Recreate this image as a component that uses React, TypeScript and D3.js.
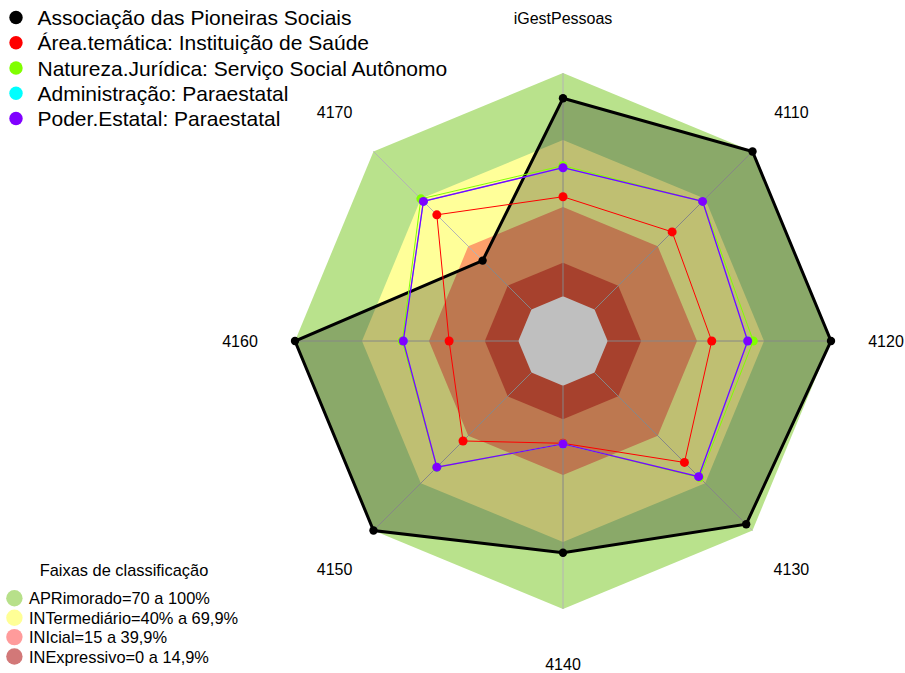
import React from "react";
import * as d3 from "d3";

const categories = ["iGestPessoas", "4110", "4120", "4130", "4140", "4150", "4160", "4170"];
const seriesNames = [
  "Associação das Pioneiras Sociais",
  "Área.temática: Instituição de Saúde",
  "Natureza.Jurídica: Serviço Social Autônomo",
  "Administração: Paraestatal",
  "Poder.Estatal: Paraestatal",
];
const seriesColors = ["#000000", "#ff0000", "#80ff00", "#00ffff", "#8000ff"];
const pioneiras = [88.7, 100, 100, 96, 74.8, 100, 100, 30.9];
const areaTematica = [44.6, 49.1, 46.6, 56.9, 25.8, 43.3, 31.0, 59.9];
const naturezaJuridica = [58.5, 68.4, 65.2, 66.5, 26.1, 60.0, 52.0, 70.0];
const administracao = [57.6, 68.4, 62.7, 65.9, 26.1, 59.9, 51.5, 68.4];
const poderEstatal = [57.6, 68.4, 62.7, 65.9, 26.1, 59.9, 51.5, 68.4];
const seriesValues = [pioneiras, areaTematica, naturezaJuridica, administracao, poderEstatal];

const bandNames = [
  "APRimorado=70 a 100%",
  "INTermediário=40% a 69,9%",
  "INIcial=15 a 39,9%",
  "INExpressivo=0 a 14,9%",
];
const bandUpper = [100, 70, 40, 15];
const bandFill = ["#b9e28c", "#ffff99", "#fca06b", "#df573c"];
const bandLegendColor = ["#b7e08a", "#ffff96", "#ff9b9b", "#d27878"];

const W = 905;
const H = 673;
const cx = 563;
const cy = 341;
const R = 268;
const FONT = "'Liberation Sans', Arial, sans-serif";

// fmsb-style radial scale: value 0 sits at 1/6 of the radius
const rScale = d3.scaleLinear().domain([0, 100]).range([R / 6, R]);
const angle = (i: number) => (i * 2 * Math.PI) / categories.length;

const pt = (i: number, v: number): [number, number] => {
  const r = rScale(v);
  const a = angle(i);
  return [cx + r * Math.sin(a), cy - r * Math.cos(a)];
};

const line = d3.line<[number, number]>().curve(d3.curveLinearClosed);
const ring = (v: number) => line(categories.map((_, i) => pt(i, v))) as string;

// drawing order: hidden cyan series underneath, then the others as in the legend
const drawOrder = [0, 3, 1, 2, 4];

export default function App() {
  return (
    <svg
      width={W}
      height={H}
      style={{ position: "absolute", left: 0, top: 0, background: "#fff" }}
      fontFamily={FONT}
    >
      {/* bands */}
      {bandUpper.map((u, k) => (
        <path key={"b" + k} d={ring(u)} fill={bandFill[k]} stroke="none" />
      ))}
      <path d={ring(0)} fill="#ffffff" stroke="none" />
      {/* axes */}
      {categories.map((_, i) => {
        const [x0, y0] = pt(i, 0);
        const [x1, y1] = pt(i, 100);
        return <line key={"ax" + i} x1={x0} y1={y0} x2={x1} y2={y1} stroke="#b4b4b4" strokeWidth={1} />;
      })}
      {/* series */}
      {drawOrder.map((s) => {
        const vals = seriesValues[s];
        const pts = vals.map((v, i) => pt(i, v));
        const isMain = s === 0;
        return (
          <g key={"s" + s}>
            <path
              d={line(pts) as string}
              fill={isMain ? "rgba(0,0,0,0.25)" : "none"}
              stroke={seriesColors[s]}
              strokeWidth={isMain ? 3 : s === 4 ? 1.3 : 1}
              strokeLinejoin="miter"
            />
            {pts.map(([x, y], i) => (
              <circle key={i} cx={x} cy={y} r={isMain ? 4.2 : 4.5} fill={seriesColors[s]} />
            ))}
          </g>
        );
      })}
      {/* axis labels */}
      {categories.map((c, i) => {
        const a = angle(i);
        const x = cx + 323 * Math.sin(a);
        const y = cy - 323 * Math.cos(a);
        return (
          <text key={"l" + i} x={x} y={y} textAnchor="middle" dominantBaseline="central" fontSize={16} fill="#000">
            {c}
          </text>
        );
      })}
      {/* series legend */}
      {seriesNames.map((n, k) => {
        const y = 17.5 + k * 25.25;
        return (
          <g key={"sl" + k}>
            <circle cx={16} cy={y} r={6.7} fill={seriesColors[k]} />
            <text x={37.5} y={y} dominantBaseline="central" fontSize={21} fill="#000">
              {n}
            </text>
          </g>
        );
      })}
      {/* bands legend */}
      <text x={124} y={570} textAnchor="middle" dominantBaseline="central" fontSize={16.4} fill="#000">
        Faixas de classificação
      </text>
      {bandNames.map((n, k) => {
        const y = 598.3 + k * 19.4;
        return (
          <g key={"bl" + k}>
            <circle cx={14.4} cy={y} r={8.2} fill={bandLegendColor[k]} />
            <text x={29} y={y} dominantBaseline="central" fontSize={16.4} fill="#000">
              {n}
            </text>
          </g>
        );
      })}
    </svg>
  );
}
